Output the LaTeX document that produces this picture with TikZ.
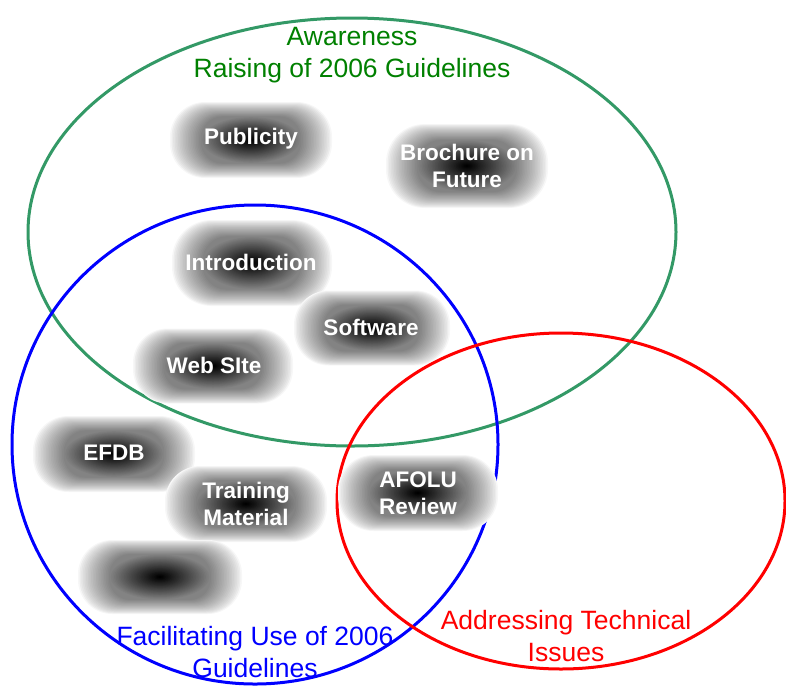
\documentclass[tikz,border=0pt]{standalone}
\usepackage{fontspec}
\setmainfont{Liberation Sans}
\usetikzlibrary{shapes.geometric}
\definecolor{ringgreen}{RGB}{51,153,102}
\definecolor{textgreen}{RGB}{0,128,0}
\tikzset{
  blobtext/.style={text=white, font=\bfseries\fontsize{22.5}{27}\selectfont, align=center, inner sep=0pt},
  ring/.style={line width=3pt, ellipse, inner sep=0pt},
  lbl/.style={font=\fontsize{26.5}{31.5}\selectfont, align=center, inner sep=0pt}
}
% soft blob: centre x, centre y, width, height
\newcommand{\softblob}[4]{%
  \foreach \i in {0,...,49}{%
    \pgfmathsetmacro{\s}{1-\i/50}%
    \pgfmathsetmacro{\k}{3+97*((\i/49)^0.8)}%
    \pgfmathsetmacro{\hw}{#3/2*\s}%
    \pgfmathsetmacro{\hh}{#4/2*\s}%
    \pgfmathsetmacro{\r}{0.46*#4*\s}%
    \ifdim\s pt>0.62pt
      \fill[black!\k, rounded corners=\r pt] (#1-\hw,#2-\hh) rectangle (#1+\hw,#2+\hh);
    \else
      \fill[black!\k] (#1,#2) ellipse [x radius=\hw pt, y radius=\hh pt];
    \fi
  }%
}
\begin{document}
\begin{tikzpicture}[x=1pt,y=-1pt]
\useasboundingbox (0,0) rectangle (786,686);
% rings
\node[ring, draw=ringgreen, minimum width=648pt, minimum height=428pt] (green) at (352,232) {};
\node[ring, draw=blue, minimum width=486pt, minimum height=479pt] (blue) at (255,444.5) {};
\node[ring, draw=red, minimum width=448pt, minimum height=336pt] (red) at (561,501) {};
% blobs
\softblob{251}{140}{162}{76}
\softblob{467}{166}{162}{84}
\softblob{252}{263}{160}{86}
\softblob{372}{328}{156}{75}
\softblob{213}{366}{160}{75}
\softblob{114}{454}{162}{76}
\softblob{246}{504}{162}{76}
\softblob{418}{493}{160}{76}
\softblob{160}{577}{164}{74}
\node[blobtext] (pub) at (251,139) {Publicity};
\node[blobtext] (bro) at (467,166) {Brochure on\\Future};
\node[blobtext] (intro) at (251,262) {Introduction};
\node[blobtext] (soft) at (371,327) {Software};
\node[blobtext] (web) at (214,365) {Web SIte};
\node[blobtext] (efdb) at (114,453) {EFDB};
\node[blobtext] (train) at (246,504) {Training\\Material};
\node[blobtext] (afolu) at (418,493) {AFOLU\\Review};
% labels
\node[lbl, text=textgreen] (lg) at (352,55) {Awareness\\Raising of 2006 Guidelines};
\node[lbl, text=blue] (lb) at (255,652) {Facilitating Use of 2006\\Guidelines};
\node[lbl, text=red] (lr) at (566,636) {Addressing Technical\\Issues};
\end{tikzpicture}
\end{document}
